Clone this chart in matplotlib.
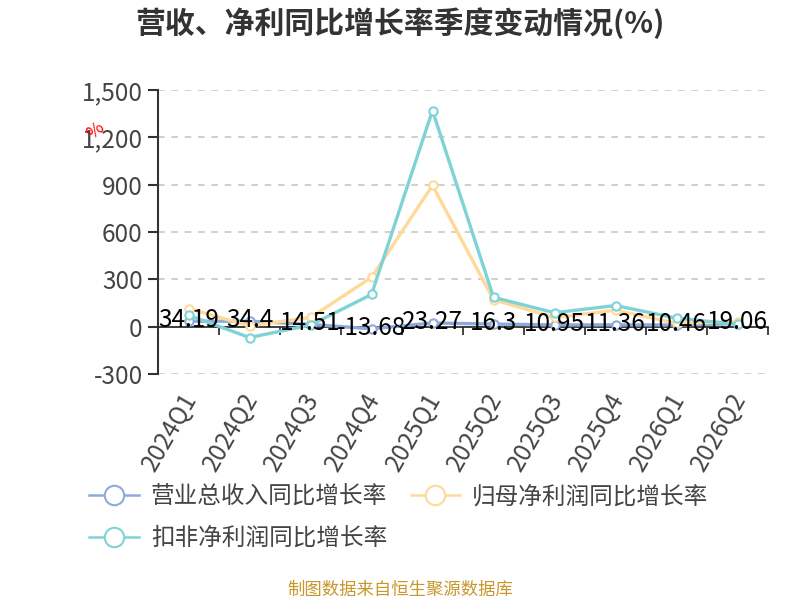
import matplotlib
matplotlib.use('Agg')
import matplotlib.pyplot as plt
from matplotlib.lines import Line2D
from matplotlib.ticker import FuncFormatter

plt.rcParams['font.family'] = ['Noto Sans CJK SC', 'DejaVu Sans']

# data
quarters = ['2024Q1', '2024Q2', '2024Q3', '2024Q4', '2025Q1',
            '2025Q2', '2025Q3', '2025Q4', '2026Q1', '2026Q2']
revenue = [34.19, 34.4, 14.51, -13.68, 23.27, 16.3, 10.95, 11.36, 10.46, 19.06]
net_profit = [115, 5, 58, 312, 895, 171, 58, 104, 21, 31]
deducted_profit = [73, -69, 10, 204, 1370, 186, 88, 134, 54, 15]
yticks = [-300, 0, 300, 600, 900, 1200, 1500]

names = ['营业总收入同比增长率', '归母净利润同比增长率', '扣非净利润同比增长率']
colors = ['#8eaadc', '#ffd999', '#7fd3d6']

fig = plt.figure(figsize=(8, 6), dpi=100)
ax = fig.add_axes([0.1975, 0.3767, 0.7625, 0.4733])

x = list(range(len(quarters)))
series = [revenue, net_profit, deducted_profit]
for vals, c in zip(series, colors):
    ax.plot(x, vals, color=c, lw=2.4, marker='o', ms=6, mfc='white',
            mec=c, mew=1.5, zorder=3)

for i, v in enumerate(revenue):
    ax.text(i, v + 8, f'{v:g}', ha='center', va='center', fontsize=17.5,
            color='black', zorder=5)

ax.set_xlim(-0.5, len(quarters) - 0.5)
ax.set_ylim(-300, 1500)
ax.set_yticks(yticks)
ax.yaxis.set_major_formatter(FuncFormatter(lambda v, p: f'{int(v):,}'))
ax.tick_params(axis='y', labelsize=17.5, labelcolor='#444444', length=7,
               width=1.5, color='#333333', pad=4)
ax.grid(axis='y', ls=(0, (4, 4)), color='#c8c8c8', lw=1.2)
ax.set_axisbelow(True)

for s in ['top', 'right']:
    ax.spines[s].set_visible(False)
ax.spines['left'].set_color('#333333')
ax.spines['left'].set_linewidth(1.5)
ax.spines['bottom'].set_position(('data', 0))
ax.spines['bottom'].set_color('#222222')
ax.spines['bottom'].set_linewidth(1.2)

ax.set_xticks([i + 0.5 for i in range(-1, len(quarters))])
ax.set_xticklabels([])
ax.tick_params(axis='x', length=6, width=1.2, color='#222222', direction='out')

for i, q in enumerate(quarters):
    ax.annotate(q, xy=(i, -300), xycoords='data', xytext=(2, -15),
                textcoords='offset points', rotation=60, ha='right',
                va='center', rotation_mode='anchor', fontsize=17.5,
                color='#444444', annotation_clip=False)

fig.text(0.5, 0.962, '营收、净利同比增长率季度变动情况(%)', ha='center',
         va='center', fontsize=21.5, fontweight='bold', color='#333333')
fig.text(0.119, 0.782, '%', rotation=40, ha='center', va='center',
         fontsize=13, color='red')

handles = [Line2D([0], [0], color=c, lw=1.8, marker='o', ms=14, mfc='white',
                  mec=c, mew=1.5) for c in colors]
order = [0, 2, 1]
fig.legend([handles[k] for k in order], [names[k] for k in order],
           loc='upper left', bbox_to_anchor=(0.1, 0.207), ncol=2,
           frameon=False, fontsize=17, labelcolor='#444444',
           handlelength=2.1, handletextpad=0.5, columnspacing=1.0,
           labelspacing=0.8, borderaxespad=0)

fig.text(0.5, 0.017, '制图数据来自恒生聚源数据库', ha='center', va='center',
         fontsize=12.5, color='#c8962a')

fig.savefig('out.png', dpi=100)
